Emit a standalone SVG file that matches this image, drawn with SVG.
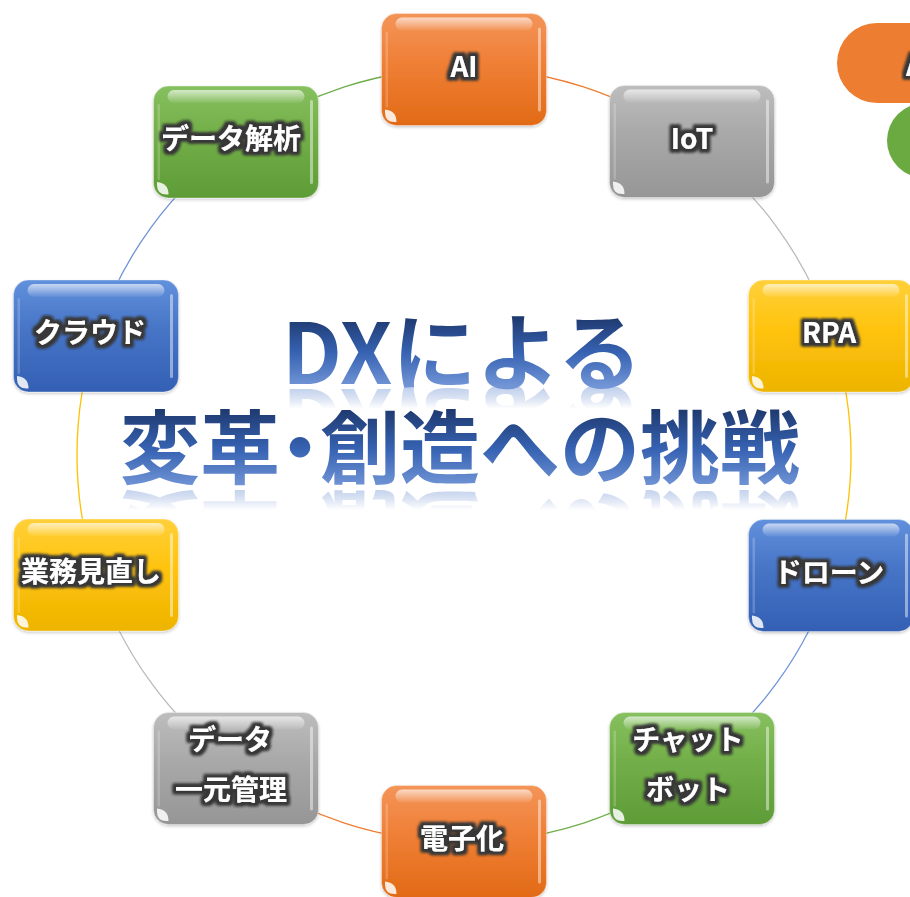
<svg xmlns="http://www.w3.org/2000/svg" xmlns:xlink="http://www.w3.org/1999/xlink" width="910" height="897" viewBox="0 0 910 897">
<defs>
<style>
.lbl{font-family:"Noto Sans CJK JP","Noto Sans",sans-serif;font-weight:700;font-size:28px;fill:#fff;text-anchor:middle;filter:url(#tglow)}
.title{font-family:"Noto Sans CJK JP","Noto Sans",sans-serif;font-weight:700}
.arc{fill:none;stroke-width:1.3}
.box{stroke:rgba(255,255,255,0.35);stroke-width:1;filter:url(#shadow)}
</style>
<linearGradient id="gO" x1="0" y1="0" x2="0" y2="1"><stop offset="0" stop-color="#F49459"/><stop offset="0.45" stop-color="#EF7F35"/><stop offset="1" stop-color="#E26A16"/></linearGradient>
<linearGradient id="gG" x1="0" y1="0" x2="0" y2="1"><stop offset="0" stop-color="#BDBDBD"/><stop offset="0.45" stop-color="#A8A8A8"/><stop offset="1" stop-color="#969696"/></linearGradient>
<linearGradient id="gY" x1="0" y1="0" x2="0" y2="1"><stop offset="0" stop-color="#FFD03A"/><stop offset="0.45" stop-color="#FFC30D"/><stop offset="1" stop-color="#EDB400"/></linearGradient>
<linearGradient id="gB" x1="0" y1="0" x2="0" y2="1"><stop offset="0" stop-color="#6190DC"/><stop offset="0.45" stop-color="#4774C6"/><stop offset="1" stop-color="#3360B4"/></linearGradient>
<linearGradient id="gN" x1="0" y1="0" x2="0" y2="1"><stop offset="0" stop-color="#86C05F"/><stop offset="0.45" stop-color="#72AE48"/><stop offset="1" stop-color="#5E9C37"/></linearGradient>
<linearGradient id="hl" x1="0" y1="0" x2="0" y2="1"><stop offset="0" stop-color="#fff" stop-opacity="0.65"/><stop offset="1" stop-color="#fff" stop-opacity="0.05"/></linearGradient>
<linearGradient id="t1" gradientUnits="userSpaceOnUse" x1="0" y1="318" x2="0" y2="388"><stop offset="0" stop-color="#1F3A70"/><stop offset="0.5" stop-color="#3763B3"/><stop offset="1" stop-color="#7598D8"/></linearGradient>
<linearGradient id="t2" gradientUnits="userSpaceOnUse" x1="0" y1="410" x2="0" y2="489"><stop offset="0" stop-color="#1F3A70"/><stop offset="0.5" stop-color="#3763B3"/><stop offset="1" stop-color="#7598D8"/></linearGradient>
<linearGradient id="f1" gradientUnits="userSpaceOnUse" x1="0" y1="387" x2="0" y2="409"><stop offset="0" stop-color="#fff" stop-opacity="0.45"/><stop offset="1" stop-color="#fff" stop-opacity="0"/></linearGradient>
<linearGradient id="f2" gradientUnits="userSpaceOnUse" x1="0" y1="488" x2="0" y2="510"><stop offset="0" stop-color="#fff" stop-opacity="0.45"/><stop offset="1" stop-color="#fff" stop-opacity="0"/></linearGradient>
<mask id="m1" maskUnits="userSpaceOnUse" x="0" y="0" width="910" height="897"><rect x="0" y="387" width="910" height="22" fill="url(#f1)"/></mask>
<mask id="m2" maskUnits="userSpaceOnUse" x="0" y="0" width="910" height="897"><rect x="0" y="488" width="910" height="22" fill="url(#f2)"/></mask>
<filter id="tglow" x="-20%" y="-50%" width="140%" height="200%">
<feMorphology in="SourceAlpha" operator="dilate" radius="2.5" result="d"/>
<feGaussianBlur in="d" stdDeviation="1.7" result="b"/>
<feFlood flood-color="#383838"/>
<feComposite in2="b" operator="in" result="s"/>
<feMerge><feMergeNode in="s"/><feMergeNode in="s"/><feMergeNode in="SourceGraphic"/></feMerge>
</filter>
<filter id="shadow" x="-10%" y="-10%" width="120%" height="130%">
<feDropShadow dx="0" dy="1.5" stdDeviation="1.5" flood-color="#000" flood-opacity="0.22"/>
</filter>
<g id="gloss">
<rect x="14" y="4" width="137" height="13" rx="6.5" fill="url(#hl)"/>
<rect x="156.5" y="14" width="3" height="84" rx="1.5" fill="#fff" opacity="0.45"/>
<rect x="4" y="18" width="2.5" height="76" rx="1.2" fill="#fff" opacity="0.2"/>
<path d="M3.5 96 L3.5 99 Q3.5 108.5 13 108.5 L15 108.5 Q15 97 3.5 96 Z" fill="#fff" opacity="0.85"/>
</g>
</defs>
<rect width="910" height="897" fill="#fff"/>

<g id="connectors">
<path class="arc" stroke="#ED7D31" d="M464 68 A387 387 0 0 1 691.47 141.91"/>
<path class="arc" stroke="#BBBBBB" d="M691.47 141.91 A387 387 0 0 1 832.06 335.41"/>
<path class="arc" stroke="#FFC000" d="M832.06 335.41 A387 387 0 0 1 832.06 574.59"/>
<path class="arc" stroke="#6F94D6" d="M832.06 574.59 A387 387 0 0 1 691.47 768.09"/>
<path class="arc" stroke="#70AD47" d="M691.47 768.09 A387 387 0 0 1 464 842"/>
<path class="arc" stroke="#ED7D31" d="M464 842 A387 387 0 0 1 236.53 768.09"/>
<path class="arc" stroke="#BBBBBB" d="M236.53 768.09 A387 387 0 0 1 95.94 574.59"/>
<path class="arc" stroke="#FFC000" d="M95.94 574.59 A387 387 0 0 1 95.94 335.41"/>
<path class="arc" stroke="#6F94D6" d="M95.94 335.41 A387 387 0 0 1 236.53 141.91"/>
<path class="arc" stroke="#70AD47" d="M236.53 141.91 A387 387 0 0 1 464 68"/>
</g>

<g id="legend">
<rect x="837" y="23" width="140" height="80" rx="40" fill="#ED7D31"/>
<circle cx="924.5" cy="140.5" r="37.5" fill="#6AAA40"/>
<text class="lbl" x="906" y="76" style="text-anchor:start">A</text>
</g>

<g id="title">
<text class="title" x="462" y="384" font-size="84" fill="url(#t1)" text-anchor="middle">DXによる</text>
<g mask="url(#m1)"><text class="title" x="462" y="384" font-size="84" fill="url(#t1)" text-anchor="middle" transform="matrix(1 0 0 -1 0 773)">DXによる</text></g>
<text class="title" x="120 200 260 320 400 480 560 640 720" y="477" font-size="80" fill="url(#t2)">変革・創造への挑戦</text>
<g mask="url(#m2)"><text class="title" x="120 200 260 320 400 480 560 640 720" y="477" font-size="80" fill="url(#t2)" transform="matrix(1 0 0 -1 0 975)">変革・創造への挑戦</text></g>
</g>

<g id="node-ai">
<rect class="box" x="381.5" y="13.5" width="165" height="112" rx="15" fill="url(#gO)"/>
<use href="#gloss" x="381.5" y="13.5"/>
<text class="lbl" x="464" y="76.5">AI</text>
</g>
<g id="node-iot">
<rect class="box" x="609.5" y="85.5" width="165" height="112" rx="15" fill="url(#gG)"/>
<use href="#gloss" x="609.5" y="85.5"/>
<text class="lbl" x="692" y="148.5">IoT</text>
</g>
<g id="node-rpa">
<rect class="box" x="748.5" y="280" width="165" height="112" rx="15" fill="url(#gY)"/>
<use href="#gloss" x="748.5" y="280"/>
<text class="lbl" x="829" y="343">RPA</text>
</g>
<g id="node-drone">
<rect class="box" x="748.5" y="519.5" width="165" height="112" rx="15" fill="url(#gB)"/>
<use href="#gloss" x="748.5" y="519.5"/>
<text class="lbl" x="829" y="582.5">ドローン</text>
</g>
<g id="node-chatbot">
<rect class="box" x="609.5" y="712.5" width="165" height="112" rx="15" fill="url(#gN)"/>
<use href="#gloss" x="609.5" y="712.5"/>
<text class="lbl" x="688" y="749.5">チャット</text>
<text class="lbl" x="688" y="799.5">ボット</text>
</g>
<g id="node-denshika">
<rect class="box" x="381.5" y="785.5" width="165" height="112" rx="15" fill="url(#gO)"/>
<use href="#gloss" x="381.5" y="785.5"/>
<text class="lbl" x="462" y="848.5">電子化</text>
</g>
<g id="node-data-mgmt">
<rect class="box" x="153.5" y="712.5" width="165" height="112" rx="15" fill="url(#gG)"/>
<use href="#gloss" x="153.5" y="712.5"/>
<text class="lbl" x="230" y="749.5">データ</text>
<text class="lbl" x="231" y="799.5">一元管理</text>
</g>
<g id="node-gyomu">
<rect class="box" x="13.5" y="519" width="165" height="112" rx="15" fill="url(#gY)"/>
<use href="#gloss" x="13.5" y="519"/>
<text class="lbl" x="91" y="582">業務見直し</text>
</g>
<g id="node-cloud">
<rect class="box" x="13.5" y="280" width="165" height="112" rx="15" fill="url(#gB)"/>
<use href="#gloss" x="13.5" y="280"/>
<text class="lbl" x="90" y="343">クラウド</text>
</g>
<g id="node-analysis">
<rect class="box" x="153.5" y="86" width="165" height="112" rx="15" fill="url(#gN)"/>
<use href="#gloss" x="153.5" y="86"/>
<text class="lbl" x="231" y="149">データ解析</text>
</g>
</svg>
